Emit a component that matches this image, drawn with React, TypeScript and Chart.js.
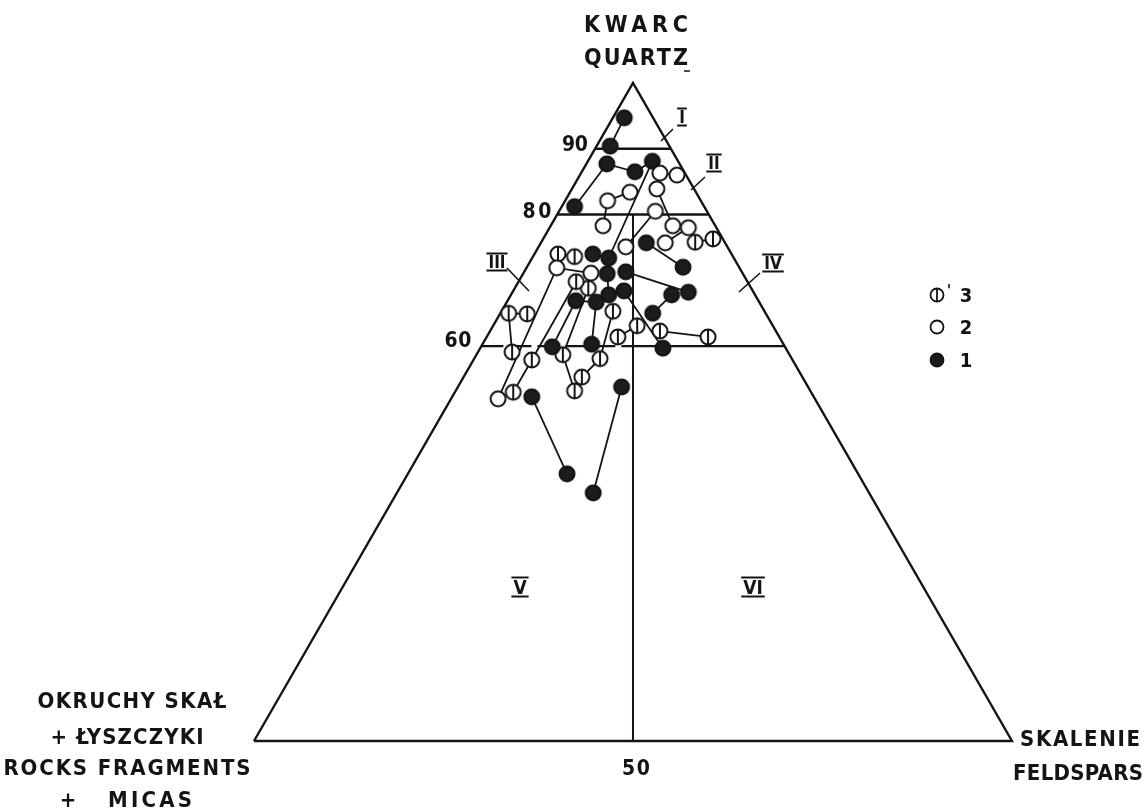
import { useEffect, useRef } from "react";
import { Chart, registerables } from "chart.js";

Chart.register(...registerables);

// Each sample: [quartz %, feldspar %, legend class (1 = filled, 2 = open, 3 = barred)]
type Sample = [number, number, 1 | 2 | 3];

const chainA: Sample[] = [[94.7, 1.5, 1], [90.4, 1.8, 1]];
const chainB: Sample[] = [[81.2, 1.7, 1], [87.7, 2.7, 1], [86.5, 7.0, 1], [88.1, 8.5, 1], [73.4, 10.1, 1], [74.0, 7.7, 1]];
const chainC: Sample[] = [[86.0, 12.8, 2], [86.3, 10.4, 2], [83.9, 11.2, 2], [78.3, 16.1, 2]];
const chainD: Sample[] = [[83.4, 7.9, 2], [82.1, 5.6, 2], [78.3, 6.9, 2]];
const chainE: Sample[] = [[80.5, 12.7, 2], [75.1, 11.5, 2]];
const chainF: Sample[] = [[78.0, 18.3, 2], [75.7, 16.4, 2]];
const chainG: Sample[] = [[75.8, 20.3, 3], [76.3, 22.4, 3]];
const chainH: Sample[] = [[75.7, 13.9, 1], [72.0, 20.6, 1]];
const chainI: Sample[] = [[74.0, 3.1, 3], [73.6, 5.5, 3]];
const chainJ: Sample[] = [[71.1, 8.9, 2], [71.9, 4.0, 2], [52.0, 6.2, 2]];
const chainK: Sample[] = [[71.0, 11.1, 1], [67.8, 12.9, 1]];
const chainL: Sample[] = [[68.8, 9.7, 3], [58.7, 11.4, 3], [53.2, 15.7, 3], [55.3, 15.6, 3], [58.1, 16.6, 3], [65.3, 14.7, 3]];
const chainM: Sample[] = [[69.8, 7.6, 3], [57.9, 7.7, 3], [53.0, 7.7, 3]];
const chainN: Sample[] = [[71.3, 13.4, 1], [68.2, 23.2, 1]];
const chainO: Sample[] = [[67.8, 21.2, 1], [65.0, 20.1, 1]];
const chainP: Sample[] = [[68.4, 14.6, 1], [59.7, 24.1, 1]];
const chainQ: Sample[] = [[61.4, 17.3, 3], [63.1, 19.0, 3]];
const chainR: Sample[] = [[62.3, 22.4, 3], [61.4, 29.2, 3]];
const chainS: Sample[] = [[59.9, 9.4, 1], [66.9, 9.0, 1], [66.7, 11.8, 1], [60.3, 14.4, 1]];
const chainT: Sample[] = [[64.9, 3.6, 3], [65.0, 1.1, 3], [59.1, 4.5, 3]];
const chainU: Sample[] = [[52.3, 10.5, 1], [40.6, 21.0, 1]];
const chainV: Sample[] = [[53.8, 21.6, 1], [37.7, 25.9, 1]];

const chains: Sample[][] = [
  chainA, chainB, chainC, chainD, chainE, chainF, chainG, chainH, chainI, chainJ, chainK,
  chainL, chainM, chainN, chainO, chainP, chainQ, chainR, chainS, chainT, chainU, chainV,
];

// Quartz class boundaries and labels
const quartzLevels = [90, 80, 60];
const quartzLabels = ["90", "80", "60"];
const feldsparSplit = 50; // F/(F+R) = 50 %
const splitTopQuartz = 80;
const splitLabel = "50";
const legendClasses = ["3", "2", "1"];

// ternary -> cartesian: x = F + Q/2, y = Q
const tp = (q: number, f: number) => ({ x: f + q / 2, y: q });

const INK = "#141414";

function makeMarker(kind: number, r: number, lw: number): HTMLCanvasElement {
  const size = 2 * Math.ceil(r + lw / 2 + 1);
  const c = document.createElement("canvas");
  c.width = size;
  c.height = size;
  const g = c.getContext("2d")!;
  const m = size / 2;
  g.beginPath();
  g.arc(m, m, r, 0, Math.PI * 2);
  g.fillStyle = kind === 1 ? "#1c1c1c" : "#ffffff";
  g.fill();
  g.lineWidth = lw;
  g.strokeStyle = INK;
  g.stroke();
  if (kind === 3) {
    g.beginPath();
    g.moveTo(m, m - r);
    g.lineTo(m, m + r);
    g.stroke();
  }
  return c;
}

const FONT = '"DejaVu Sans Condensed", "DejaVu Sans", sans-serif';

function fitText(ctx: CanvasRenderingContext2D, text: string, cx: number, cy: number, width: number, size: number) {
  ctx.save();
  ctx.font = `bold ${size}px ${FONT}`;
  (ctx as any).letterSpacing = "0px";
  const natural = ctx.measureText(text).width;
  const n = Array.from(text).length;
  const ls = n > 1 ? (width - natural) / (n - 1) : 0;
  (ctx as any).letterSpacing = `${ls}px`;
  ctx.textAlign = "left";
  ctx.textBaseline = "alphabetic";
  ctx.fillStyle = INK;
  const x0 = n > 1 ? cx - width / 2 : cx - natural / 2;
  ctx.fillText(text, x0, cy + size * 0.365);
  ctx.restore();
}

function roman(ctx: CanvasRenderingContext2D, text: string, cx: number, cy: number, size: number) {
  ctx.save();
  ctx.font = `bold ${size}px ${FONT}`;
  ctx.fillStyle = INK;
  ctx.textAlign = "center";
  ctx.textBaseline = "alphabetic";
  const w = ctx.measureText(text).width;
  ctx.fillText(text, cx, cy + size * 0.365);
  ctx.strokeStyle = INK;
  ctx.lineWidth = 2;
  const half = w / 2 + 2;
  const bar = size * 0.5;
  ctx.beginPath();
  ctx.moveTo(cx - half, cy - bar);
  ctx.lineTo(cx + half, cy - bar);
  ctx.moveTo(cx - half, cy + bar);
  ctx.lineTo(cx + half, cy + bar);
  ctx.stroke();
  ctx.restore();
}

function seg(ctx: CanvasRenderingContext2D, x1: number, y1: number, x2: number, y2: number, lw: number) {
  ctx.save();
  ctx.strokeStyle = INK;
  ctx.lineWidth = lw;
  ctx.beginPath();
  ctx.moveTo(x1, y1);
  ctx.lineTo(x2, y2);
  ctx.stroke();
  ctx.restore();
}

export default function App() {
  const ref = useRef<HTMLCanvasElement | null>(null);

  useEffect(() => {
    if (!ref.current) return;
    const markers: Record<number, HTMLCanvasElement> = {
      1: makeMarker(1, 7.5, 2),
      2: makeMarker(2, 7.5, 2),
      3: makeMarker(3, 7.5, 2),
    };
    const legendMarkers: Record<number, HTMLCanvasElement> = {
      1: makeMarker(1, 6.5, 1.8),
      2: makeMarker(2, 6.5, 1.8),
      3: makeMarker(3, 6.5, 1.8),
    };

    const frameStyle = {
      showLine: true,
      pointRadius: 0,
      borderColor: INK,
      borderWidth: 2.4,
      order: 2,
      clip: false as any,
    };

    const datasets: any[] = [];
    // triangle frame
    datasets.push({
      ...frameStyle,
      data: [tp(0, 0), tp(0, 100), tp(100, 0), tp(0, 0)],
    });
    // quartz level lines
    quartzLevels.forEach((q, i) => {
      const fMid = feldsparSplit - q / 2;
      if (q < splitTopQuartz) {
        datasets.push({ ...frameStyle, data: [tp(q, 0), tp(q, fMid)], borderDash: i === 2 ? [22, 6] : [] });
        datasets.push({ ...frameStyle, data: [tp(q, fMid), tp(q, 100 - q)] });
      } else {
        datasets.push({ ...frameStyle, data: [tp(q, 0), tp(q, 100 - q)] });
      }
    });
    // feldspar / rock-fragment split line
    datasets.push({
      ...frameStyle,
      borderWidth: 2,
      data: [tp(0, feldsparSplit), tp(splitTopQuartz, feldsparSplit - splitTopQuartz / 2)],
    });
    // sample connectors
    chains.forEach((ch) => {
      datasets.push({
        showLine: true,
        pointRadius: 0,
        borderColor: INK,
        borderWidth: 1.8,
        order: 1,
        clip: false,
        data: ch.map((s) => tp(s[0], s[1])),
      });
    });
    // sample markers
    const all = chains.flat();
    datasets.push({
      showLine: false,
      order: 0,
      clip: false,
      data: all.map((s) => tp(s[0], s[1])),
      pointStyle: all.map((s) => markers[s[2]]),
      pointRadius: 8,
    });

    const labelsPlugin = {
      id: "labels",
      afterDraw(chart: any) {
        const ctx: CanvasRenderingContext2D = chart.ctx;
        // vertex titles
        fitText(ctx, "KWARC", 636, 24, 104, 23);
        fitText(ctx, "QUARTZ", 636, 57, 104, 23);
        seg(ctx, 684, 71, 690, 71, 1.5);
        fitText(ctx, "OKRUCHY SKAŁ", 132, 700, 189, 22);
        fitText(ctx, "+ ŁYSZCZYKI", 127, 736, 153, 22);
        fitText(ctx, "ROCKS FRAGMENTS", 127, 767, 247, 22);
        fitText(ctx, "+", 68, 799, 0, 22);
        fitText(ctx, "MICAS", 150, 799, 84, 22);
        fitText(ctx, "SKALENIE", 1080, 738, 120, 22);
        fitText(ctx, "FELDSPARS", 1078, 772, 130, 22);
        // level labels
        const levelPos = [[575, 143, 26], [537, 210, 29], [458, 339, 27]];
        quartzLabels.forEach((t, i) => fitText(ctx, t, levelPos[i][0], levelPos[i][1], levelPos[i][2], 21));
        fitText(ctx, splitLabel, 636, 767, 28, 21);
        // class numerals with leaders
        roman(ctx, "I", 682, 117, 17);
        seg(ctx, 673, 129, 661, 141, 1.6);
        roman(ctx, "II", 714, 163, 17);
        seg(ctx, 705, 177, 691, 190, 1.6);
        roman(ctx, "III", 497, 262, 17);
        seg(ctx, 507, 268, 529, 291, 1.6);
        roman(ctx, "IV", 773, 263, 17);
        seg(ctx, 760, 273, 739, 292, 1.6);
        roman(ctx, "V", 520, 587, 19);
        roman(ctx, "VI", 753, 587, 19);
        // legend
        const ly = [295, 327, 360];
        const kinds = [3, 2, 1];
        legendClasses.forEach((t, i) => {
          const m = legendMarkers[kinds[i]];
          ctx.drawImage(m, 937 - m.width / 2, ly[i] - m.height / 2);
          fitText(ctx, t, 966, ly[i], 0, 20);
        });
        fitText(ctx, "'", 949, 290, 0, 16);
      },
    };

    const chart = new Chart(ref.current, {
      type: "scatter",
      data: { datasets },
      options: {
        animation: false,
        responsive: false,
        devicePixelRatio: 1,
        layout: { padding: 0, autoPadding: false },
        plugins: { legend: { display: false }, tooltip: { enabled: false }, title: { display: false } },
        scales: {
          x: { type: "linear", display: false, min: -33.51, max: 117.55 },
          y: { type: "linear", display: false, min: -10.49, max: 112.61 },
        },
        elements: { line: { tension: 0 } },
      },
      plugins: [labelsPlugin],
    });
    return () => chart.destroy();
  }, []);

  return (
    <div style={{ position: "fixed", left: 0, top: 0, width: 1145, height: 810, background: "#fff" }}>
      <canvas ref={ref} width={1145} height={810} style={{ display: "block" }} />
    </div>
  );
}
